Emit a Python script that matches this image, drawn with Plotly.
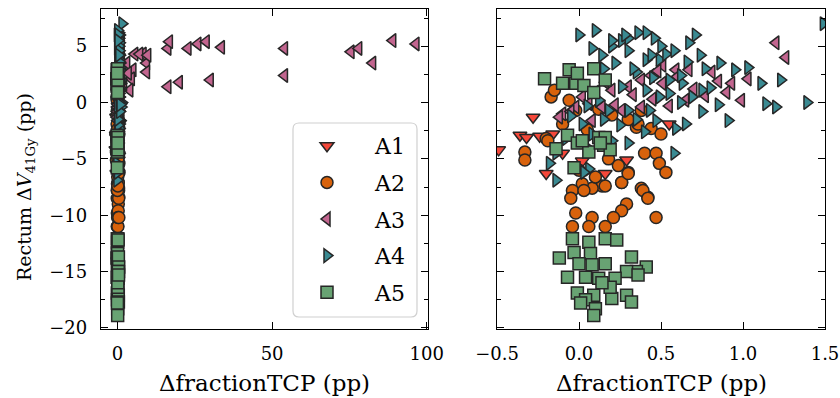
import plotly.graph_objects as go

# ---------------- data ----------------
a1_x = [-0.49, -0.36, -0.32, -0.24, -0.16, -0.28, -0.20, 0.16, 0.29, 0.55, 0.02, -0.10, 0.10]
a1_y = [-4.2, -2.9, -3.1, -3.0, -2.8, -1.3, -6.3, -6.3, -5.1, -1.9, -5.2, -4.5, -3.0]

a2_x = [-0.33, -0.33, -0.20, -0.19, -0.17, -0.15, -0.06, -0.02, 0.20, 0.38, 0.35, 0.44,
        0.40, 0.47, 0.49, 0.53, 0.24, 0.30, 0.14, 0.08, 0.02, -0.04, 0.26, 0.38, 0.42,
        -0.05, -0.02, -0.04, 0.08, 0.06, 0.16, 0.26, 0.29, 0.26, 0.21, 0.39, 0.42, 0.47,
        0.10, 0.00, 0.30, 0.03, 0.16, 0.36, 0.12, 0.30, 0.50, 0.18, -0.10, 0.05]
a2_y = [-4.4, -5.1, -3.2, -3.4, 0.5, 1.1, 0.2, -0.7, -1.1, -0.7, -2.2, -2.3,
        -4.5, -4.5, -5.4, -6.2, -5.6, -6.2, -7.4, -7.6, -7.2, -7.8, -7.1, -7.6, -8.4,
        -8.5, -9.8, -11.0, -10.2, -11.0, -11.0, -7.1, -9.0, -9.6, -10.2, -7.8, -8.5, -10.2,
        -6.6, -6.0, -6.3, -7.8, -7.4, -1.9, -0.6, -1.5, -2.8, -5.0, -1.9, -2.4]

a3_x = [1.20, 1.26, 0.99, 0.93, 1.03, 0.81, 0.67, 0.59, 0.51, 0.77, 0.65, 0.38, 0.26,
        0.14, 0.06, -0.02, -0.10, -0.12, 0.02, 0.10, 0.20, 0.30, 0.38, 0.51, 0.44, 0.16,
        0.45, 0.55, 0.70, 0.85, 0.33, 0.22, 0.60, 0.90, 0.48, 0.08, -0.05,
        16.3, 16.8, 22.8, 26.0, 28.7, 33.6, 54.0, 54.0, 75.5, 78.0, 82.5, 89.0, 96.5,
        16.3, 20.0, 30.0, 8.3, 9.4, 9.4, 5.6, 5.0, 3.0, 4.5, 4.0, 7.2, 9.8, 2.0, 3.5]
a3_y = [5.3, 4.0, 0.2, 1.7, 2.1, 2.7, 2.9, 2.9, 3.3, 0.6, 0.2, -0.4, -0.7,
        -0.4, -0.1, -0.4, -1.0, -1.3, 0.5, 0.9, 1.1, 1.4, 2.0, 1.7, 2.4, 1.8,
        0.3, -0.3, 1.2, 1.9, 0.7, -0.2, 2.3, 0.9, 2.8, -1.6, -0.8,
        4.8, 5.4, 4.8, 5.2, 5.4, 4.9, 4.8, 2.4, 4.5, 4.8, 3.5, 5.5, 5.2,
        1.4, 1.8, 2.0, 4.3, 3.5, 2.7, 4.3, 2.9, 3.5, 2.1, 1.1, 4.3, 4.2, 1.6, 2.6]

a4_x = [1.49, 0.08, 0.26, 0.36, 0.41, 0.46, 0.30, 0.71, 0.67, 0.74, 0.86, 0.77, 1.03,
        1.11, 1.23, 1.39, 1.14, 1.20, 0.91, 0.58, 0.65, 0.59, 0.47, 0.49, 0.69, 0.75,
        0.55, 0.63, 0.55, 0.41, 0.41, 0.49, 0.53, 0.22, 0.14, 0.30, 0.35, 0.26, 0.18,
        0.30, 0.43, 0.30, 0.20, 0.08, -0.14, -0.18, -0.14, 0.06, 0.02, 0.12, 0.95,
        0.62, 0.80, 0.40, 0.20, 0.10, 0.00, -0.05, 0.05, 0.15,
        0.50, 0.58, 0.66, 0.33, 0.45, 0.62, 0.35, 0.25, 0.15, 0.75, 0.85, 0.28, 0.44,
        0.20, 0.05, -0.08, 0.03]
a4_y = [7.0, 4.8, 5.5, 6.2, 6.2, 5.7, 5.7, 6.0, 5.3, 4.2, 3.5, 3.0, 3.1,
        1.7, 2.0, 0.0, -0.1, -0.4, -1.6, -4.5, -1.9, -2.3, -1.6, 0.5, 0.5, 1.1,
        0.8, 1.7, 2.0, 1.1, 3.8, 3.8, 4.3, 3.5, 4.2, 4.6, 2.7, 1.4, -0.7,
        -0.7, -0.7, -3.6, -3.4, -2.8, -4.5, -5.4, -6.9, -5.9, -1.9, 0.2, 2.9,
        2.4, 1.3, -2.6, 5.0, 6.4, 6.0, -1.2, -0.3, 3.0,
        5.0, 4.6, 3.6, 3.0, 2.2, 0.0, -1.5, -2.0, -1.5, -0.8, -0.2, 6.0, 4.2,
        5.5, -4.0, -3.2, -6.2]

a5_x = [-0.21, -0.06, 0.09, -0.10, -0.02, 0.03, 0.09, 0.16, -0.01,
        -0.14, -0.07, -0.01, 0.06, 0.15, 0.19, -0.03, 0.12, 0.02, 0.16, 0.13,
        -0.04, 0.06, 0.16, 0.23, -0.12, -0.03, 0.07, 0.16, 0.08, 0.00, 0.32, 0.41,
        0.35, 0.29, 0.22, 0.12, 0.04, -0.07, -0.01, 0.09, 0.04, 0.20, 0.29, 0.32,
        0.19, 0.10, 0.09, 0.01, 0.14, 0.36]
a5_y = [2.1, 2.9, 3.0, 1.7, 1.7, 1.5, 0.9, 2.0, 2.6,
        -4.1, -2.9, -3.6, -4.4, -3.8, -4.2, -5.8, -3.1, -3.4, -3.1, -3.6,
        -12.1, -12.4, -12.1, -12.2, -13.8, -13.3, -13.4, -14.3, -14.4, -14.3, -13.7, -14.6,
        -15.0, -15.0, -15.6, -15.6, -15.5, -15.5, -16.9, -17.1, -17.5, -17.4, -17.1, -17.7,
        -16.4, -18.3, -18.9, -17.8, -16.0, -15.3]

names = ["A1", "A2", "A3", "A4", "A5"]
symbols = ["triangle-down", "circle", "triangle-left", "triangle-right", "square"]
colors = ["#F5483A", "#D8620C", "#C2658F", "#3A8A92", "#68A373"]
xs_all = [a1_x, a2_x, a3_x, a4_x, a5_x]
ys_all = [a1_y, a2_y, a3_y, a4_y, a5_y]

FONT = "DejaVu Serif"
EDGE = "#262626"

fig = go.Figure()
for name, sym, col, xs, ys in zip(names, symbols, colors, xs_all, ys_all):
    for k, (xa, ya) in enumerate([("x", "y"), ("x2", "y2")]):
        fig.add_trace(go.Scatter(
            x=xs, y=ys, mode="markers", name=name, xaxis=xa, yaxis=ya,
            showlegend=(k == 0), legendgroup=name,
            marker=dict(symbol=sym, size=12, color=col,
                        line=dict(color=EDGE, width=1.5)),
        ))

# plot area in pixels: x 101..825, y 9..329
L, R, T, B = 101, 15, 9, 69
W, H = 840, 398
PW, PH = W - L - R, H - T - B

def px(xp):
    return (xp - L) / PW

def py(yp):
    return (H - B - yp) / PH

axis_common = dict(
    showline=True, linewidth=1.4, linecolor="black", mirror="allticks",
    ticks="inside", ticklen=7, tickwidth=1.2, tickcolor="black",
    showgrid=False, zeroline=False, automargin=False, ticklabeloverflow="allow",
    tickfont=dict(family=FONT, size=18, color="black"),
)

fig.update_layout(
    width=W, height=H,
    margin=dict(l=L, r=R, t=T, b=B, autoexpand=False),
    paper_bgcolor="white", plot_bgcolor="white",
    showlegend=True,
    xaxis=dict(domain=[0, px(428)], range=[-5.3, 100.4], tickvals=[0, 50, 100],
               anchor="y", ticklabelstandoff=8, **axis_common),
    xaxis2=dict(domain=[px(497), 1], range=[-0.5, 1.5], dtick=0.5, tick0=0,
                tickformat=".1f", anchor="y2", ticklabelstandoff=8, **axis_common),
    yaxis=dict(domain=[0, 1], range=[-20.1, 8.3], dtick=5, tick0=0, anchor="x",
               ticklabelstandoff=9,
               minor=dict(ticks="inside", ticklen=4, tickwidth=1.0, dtick=2.5,
                          tickcolor="black"),
               **axis_common),
    yaxis2=dict(domain=[0, 1], range=[-20.1, 8.3], dtick=5, tick0=0, anchor="x2",
                matches="y", showticklabels=False,
                minor=dict(ticks="inside", ticklen=4, tickwidth=1.0, dtick=2.5,
                           tickcolor="black"),
                **axis_common),
    legend=dict(
        x=px(279), y=py(125), xanchor="left", yanchor="top",
        bgcolor="rgba(0,0,0,0)", borderwidth=0,
        font=dict(family=FONT, size=22, color="black"),
        traceorder="grouped", tracegroupgap=5, itemwidth=86,
    ),
)

# rounded legend frame
x0, x1, y0, y1, r = 293, 417, 123, 317, 6
path = (f"M {px(x0+r)},{py(y0)} L {px(x1-r)},{py(y0)} Q {px(x1)},{py(y0)} {px(x1)},{py(y0+r)} "
        f"L {px(x1)},{py(y1-r)} Q {px(x1)},{py(y1)} {px(x1-r)},{py(y1)} "
        f"L {px(x0+r)},{py(y1)} Q {px(x0)},{py(y1)} {px(x0)},{py(y1-r)} "
        f"L {px(x0)},{py(y0+r)} Q {px(x0)},{py(y0)} {px(x0+r)},{py(y0)} Z")
fig.add_shape(type="path", path=path, xref="paper", yref="paper",
              line=dict(color="#d0d0d0", width=1.2), fillcolor="rgba(255,255,255,0.8)",
              layer="above")

# axis titles
fig.add_annotation(text="Rectum Δ<i>V</i><sub>41Gy</sub> (pp)", textangle=-90,
                   x=px(25), y=py(187), xref="paper", yref="paper", showarrow=False,
                   xanchor="center", yanchor="middle",
                   font=dict(family=FONT, size=19, color="black"))
for cx in (264.5, 661):
    fig.add_annotation(text="ΔfractionTCP (pp)", x=px(cx), y=py(383), xref="paper",
                       yref="paper", showarrow=False, xanchor="center", yanchor="middle",
                       font=dict(family=FONT, size=23, color="black"))

fig.write_html("out.html")
